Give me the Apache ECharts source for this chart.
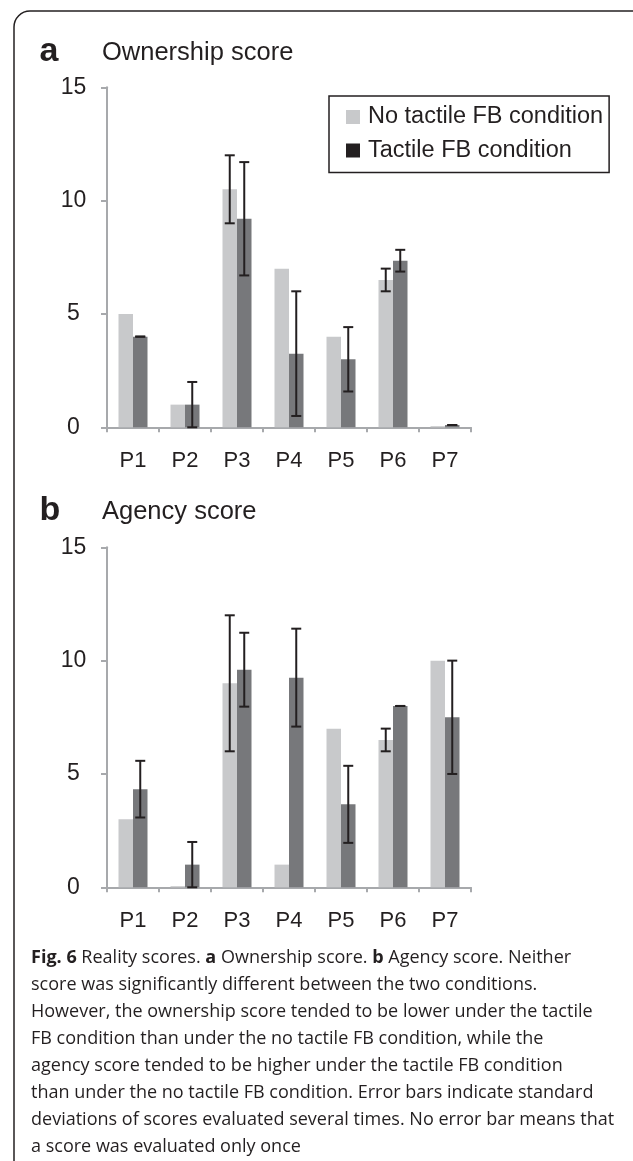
<!DOCTYPE html>
<html>
<head>
<meta charset="utf-8">
<script src="https://cdn.jsdelivr.net/npm/echarts@6/dist/echarts.min.js"></script>
<style>
html,body{margin:0;padding:0;background:#fff;}
#chart{width:633px;height:1161px;}
</style>
</head>
<body>
<div id="chart"></div>
<script>
// ---------- data ----------
const categories = ['P1', 'P2', 'P3', 'P4', 'P5', 'P6', 'P7'];
const seriesNames = ['No tactile FB condition', 'Tactile FB condition'];
const yTickValues = [0, 5, 10, 15];

const ownershipNoTactile    = [5, 1, 10.5, 7, 4, 6.5, 0.05];
const ownershipNoTactileErr = [null, null, 1.5, null, null, 0.5, null];
const ownershipTactile      = [4, 1, 9.2, 3.25, 3, 7.35, 0.1];
const ownershipTactileErr   = [0, 1, 2.5, 2.75, 1.42, 0.48, 0];

const agencyNoTactile    = [3, 0.05, 9, 1, 7, 6.5, 10];
const agencyNoTactileErr = [null, null, 3, null, null, 0.5, null];
const agencyTactile      = [4.33, 1, 9.6, 9.25, 3.66, 8, 7.5];
const agencyTactileErr   = [1.25, 1, 1.63, 2.16, 1.7, 0, 2.5];

const panelTitles = ['Ownership score', 'Agency score'];
const panelLetters = ['a', 'b'];

const captionLines = [
  '{b|Fig. 6} Reality scores. {b|a} Ownership score. {b|b} Agency score. Neither',
  'score was significantly different between the two conditions.',
  'However, the ownership score tended to be lower under the tactile',
  'FB condition than under the no tactile FB condition, while the',
  'agency score tended to be higher under the tactile FB condition',
  'than under the no tactile FB condition. Error bars indicate standard',
  'deviations of scores evaluated several times. No error bar means that',
  'a score was evaluated only once'
];

// ---------- styles ----------
const INK = '#231f20';
const LIGHT = '#c8c9cb';
const DARK = '#77787b';
const AXIS = '#a7a9ac';
const SANS = '"Liberation Sans", Arial, Helvetica, sans-serif';
const CAP_FONT = '"Open Sans", "Noto Sans", sans-serif';
const BAR_W = 14.5;

const grids = [
  {left: 107, top: 87.3, width: 364, height: 340},
  {left: 107, top: 547.3, width: 364, height: 340}
];

function errData(vals, errs) {
  const out = [];
  vals.forEach((v, i) => {
    if (errs[i] !== null && errs[i] !== undefined) out.push([i, v - errs[i], v + errs[i]]);
  });
  return out;
}

function errorSeries(name, gi, data, offset) {
  return {
    type: 'custom',
    name: name,
    xAxisIndex: gi,
    yAxisIndex: gi,
    z: 10,
    encode: {x: 0, y: [1, 2]},
    data: data,
    renderItem: function (params, api) {
      const i = api.value(0);
      const lo = api.coord([i, api.value(1)]);
      const hi = api.coord([i, api.value(2)]);
      const x = lo[0] + offset;
      const hw = 5;
      const st = {stroke: INK, lineWidth: 2};
      return {
        type: 'group',
        children: [
          {type: 'line', shape: {x1: x, y1: lo[1], x2: x, y2: hi[1]}, style: st},
          {type: 'line', shape: {x1: x - hw, y1: lo[1], x2: x + hw, y2: lo[1]}, style: st},
          {type: 'line', shape: {x1: x - hw, y1: hi[1], x2: x + hw, y2: hi[1]}, style: st}
        ]
      };
    }
  };
}

// caption font size fitted so the widest line matches the reference width
const mc = document.createElement('canvas').getContext('2d');
mc.font = '20px "Open Sans"';
let wMax = 0;
captionLines.forEach(l => { wMax = Math.max(wMax, mc.measureText(l.replace(/\{b\|([^}]*)\}/g, '$1')).width); });
const capFs = Math.max(15, Math.min(21, 20 * 584 / wMax));

const panels = [
  [ownershipNoTactile, ownershipNoTactileErr, ownershipTactile, ownershipTactileErr],
  [agencyNoTactile, agencyNoTactileErr, agencyTactile, agencyTactileErr]
];

const xAxes = [], yAxes = [], series = [];
panels.forEach((p, gi) => {
  xAxes.push({
    type: 'category', gridIndex: gi, data: categories, boundaryGap: true,
    axisLine: {lineStyle: {color: AXIS, width: 2}},
    axisTick: {show: true, alignWithLabel: false, length: 5, lineStyle: {color: AXIS, width: 2}},
    axisLabel: {color: INK, fontFamily: SANS, fontSize: 22, margin: 23}
  });
  yAxes.push({
    type: 'value', gridIndex: gi, min: yTickValues[0], max: yTickValues[yTickValues.length - 1],
    interval: yTickValues[1] - yTickValues[0],
    splitLine: {show: false},
    axisLine: {show: true, lineStyle: {color: AXIS, width: 2}},
    axisTick: {show: true, length: 6, lineStyle: {color: AXIS, width: 2}},
    axisLabel: {color: INK, fontFamily: SANS, fontSize: 23, margin: 33.5, align: 'center', padding: [6, 0, 0, 0]}
  });
  series.push({
    type: 'bar', name: seriesNames[0], xAxisIndex: gi, yAxisIndex: gi,
    data: p[0], barWidth: BAR_W, barGap: '0%', itemStyle: {color: LIGHT}
  });
  series.push({
    type: 'bar', name: seriesNames[1], xAxisIndex: gi, yAxisIndex: gi,
    data: p[2], barWidth: BAR_W, barGap: '0%', itemStyle: {color: DARK}
  });
  series.push(errorSeries('err-a-' + gi, gi, errData(p[0], p[1]), -BAR_W / 2));
  series.push(errorSeries('err-b-' + gi, gi, errData(p[2], p[3]), BAR_W / 2));
});

const borderStyle = {fill: null, stroke: INK, lineWidth: 1.5};
const graphics = [
  {type: 'line', shape: {x1: 14, y1: 1170, x2: 14, y2: 27}, style: borderStyle, silent: true},
  {type: 'arc', shape: {cx: 30, cy: 27, r: 16, startAngle: Math.PI, endAngle: Math.PI * 1.5, clockwise: true}, style: borderStyle, silent: true},
  {type: 'line', shape: {x1: 30, y1: 11, x2: 660, y2: 11}, style: borderStyle, silent: true}
];
const titleY = [53, 512];
panelLetters.forEach((l, i) => {
  graphics.push({type: 'text', x: 39.5, y: titleY[i] - 1, style: {text: l, font: 'bold 34px ' + SANS, fill: INK, verticalAlign: 'middle', align: 'left'}});
  graphics.push({type: 'text', x: 102, y: titleY[i], style: {text: panelTitles[i], font: '25.5px ' + SANS, fill: INK, verticalAlign: 'middle', align: 'left'}});
});
captionLines.forEach((line, k) => {
  graphics.push({
    type: 'text', x: 31, y: 958 + 27 * k,
    style: {
      text: line, fill: INK, fontSize: capFs, fontFamily: CAP_FONT, verticalAlign: 'middle', align: 'left',
      rich: {b: {fontWeight: 'bold', fontSize: capFs, fontFamily: CAP_FONT, fill: INK}}
    }
  });
});

const chart = echarts.init(document.getElementById('chart'), null, {renderer: 'canvas'});
chart.setOption({
  animation: false,
  backgroundColor: '#fff',
  grid: grids,
  xAxis: xAxes,
  yAxis: yAxes,
  legend: {
    left: 329, top: 96, orient: 'vertical',
    borderColor: INK, borderWidth: 1.5, borderRadius: 0,
    padding: [9, 6, 10, 17],
    itemWidth: 14, itemHeight: 14, itemGap: 9.5, icon: 'rect',
    selectedMode: false,
    textStyle: {fontFamily: SANS, fontSize: 23.5, lineHeight: 24, color: INK, padding: [0, 0, 0, 3]},
    data: [
      {name: seriesNames[0], itemStyle: {color: LIGHT}},
      {name: seriesNames[1], itemStyle: {color: INK}}
    ]
  },
  series: series,
  graphic: graphics
});
</script>
</body>
</html>
